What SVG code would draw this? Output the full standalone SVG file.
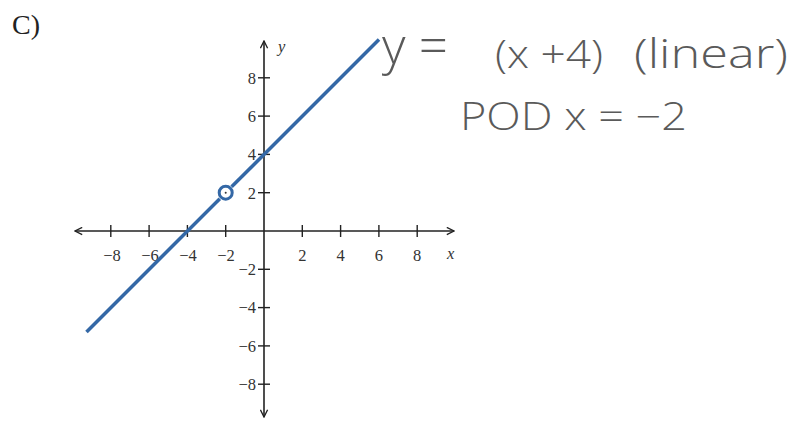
<svg xmlns="http://www.w3.org/2000/svg" width="799" height="424" viewBox="0 0 799 424">
<defs>
<style>
.ax{stroke:#222;stroke-width:1.6;fill:none}
.tk{stroke:#222;stroke-width:1.4}
.lb{font-family:"Liberation Serif",serif;font-size:16.5px;fill:#333}
.hw{font-family:"Open Sans","Liberation Sans",sans-serif;fill:#5a5a5a;font-weight:300}
</style>
<marker id="ah" viewBox="0 0 10 10" refX="9" refY="5" markerWidth="9" markerHeight="9" orient="auto" markerUnits="userSpaceOnUse">
<path d="M1,1 L9,5 L1,9" fill="none" stroke="#222" stroke-width="1.5"/>
</marker>
</defs>
<rect width="799" height="424" fill="#fff"/>
<text x="12" y="34" font-family="Liberation Serif,serif" font-size="28" fill="#222">C)</text>
<g id="axes">
<line class="ax" x1="264" y1="231" x2="75" y2="231" marker-end="url(#ah)"/>
<line class="ax" x1="264" y1="231" x2="454" y2="231" marker-end="url(#ah)"/>
<line class="ax" x1="264" y1="231" x2="264" y2="41" marker-end="url(#ah)"/>
<line class="ax" x1="264" y1="231" x2="264" y2="417" marker-end="url(#ah)"/>
<g class="tk">
<line x1="110.8" y1="225" x2="110.8" y2="237"/>
<line x1="149.1" y1="225" x2="149.1" y2="237"/>
<line x1="187.4" y1="225" x2="187.4" y2="237"/>
<line x1="225.7" y1="225" x2="225.7" y2="237"/>
<line x1="302.3" y1="225" x2="302.3" y2="237"/>
<line x1="340.6" y1="225" x2="340.6" y2="237"/>
<line x1="378.9" y1="225" x2="378.9" y2="237"/>
<line x1="417.2" y1="225" x2="417.2" y2="237"/>
<line x1="258" y1="77.8" x2="270" y2="77.8"/>
<line x1="258" y1="116.1" x2="270" y2="116.1"/>
<line x1="258" y1="154.4" x2="270" y2="154.4"/>
<line x1="258" y1="192.7" x2="270" y2="192.7"/>
<line x1="258" y1="269.3" x2="270" y2="269.3"/>
<line x1="258" y1="307.6" x2="270" y2="307.6"/>
<line x1="258" y1="345.9" x2="270" y2="345.9"/>
<line x1="258" y1="384.2" x2="270" y2="384.2"/>
</g>
<g class="lb" text-anchor="middle">
<text x="112" y="261">−8</text>
<text x="150" y="261">−6</text>
<text x="188" y="261">−4</text>
<text x="226" y="261">−2</text>
<text x="302.3" y="261">2</text>
<text x="340.6" y="261">4</text>
<text x="378.9" y="261">6</text>
<text x="417.2" y="261">8</text>
</g>
<g class="lb" text-anchor="end">
<text x="256" y="83.5">8</text>
<text x="256" y="121.8">6</text>
<text x="256" y="160">4</text>
<text x="256" y="198.5">2</text>
<text x="256" y="275">−2</text>
<text x="256" y="313">−4</text>
<text x="256" y="351.5">−6</text>
<text x="256" y="390">−8</text>
</g>
<text class="lb" x="447" y="259" font-style="italic">x</text>
<text class="lb" x="278" y="52" font-style="italic">y</text>
</g>
<g id="graph">
<line x1="86.5" y1="332" x2="219.8" y2="198.7" stroke="#3468a6" stroke-width="3.5"/>
<line x1="231.6" y1="186.8" x2="379" y2="39.5" stroke="#3468a6" stroke-width="3.5"/>
<circle cx="225.7" cy="192.7" r="6.5" fill="#fff" stroke="#3468a6" stroke-width="3"/>
<circle cx="225.7" cy="192.7" r="1" fill="#333"/>
</g>
<g id="notes" class="hw">
<text x="382" y="64" font-size="52" textLength="66" lengthAdjust="spacingAndGlyphs">y =</text>
<text x="495" y="68" font-size="38" textLength="108" lengthAdjust="spacingAndGlyphs">(x +4)</text>
<text x="634" y="68" font-size="40" textLength="154" lengthAdjust="spacingAndGlyphs">(linear)</text>
<text x="460" y="130" font-size="38" textLength="227" lengthAdjust="spacingAndGlyphs">POD  x = −2</text>
</g>
</svg>
